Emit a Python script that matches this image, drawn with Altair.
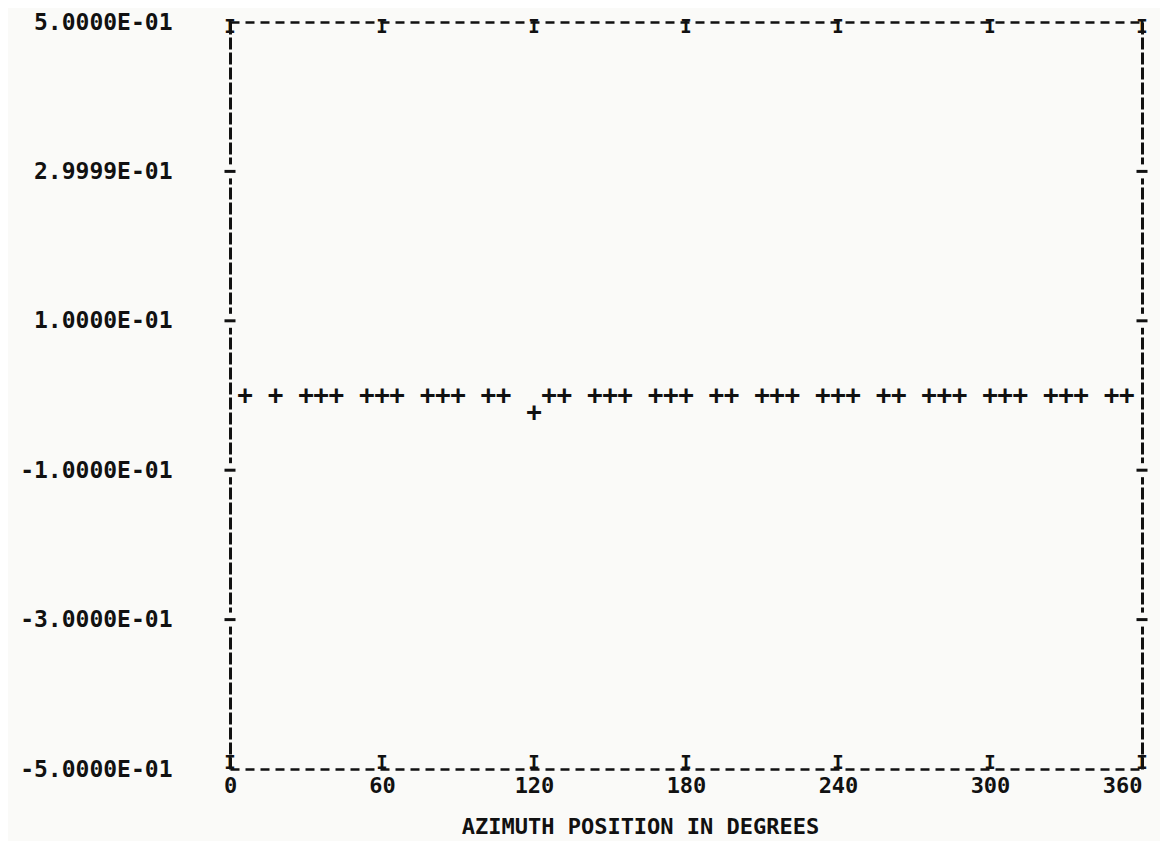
import altair as alt
import pandas as pd

# ---- data ----
azimuth_deg = [6, 18, 30, 36, 42, 54, 60, 66, 78, 84, 90, 102, 108, 120, 126, 132,
               144, 150, 156, 168, 174, 180, 192, 198, 210, 216, 222, 234, 240, 246,
               258, 264, 276, 282, 288, 300, 306, 312, 324, 330, 336, 348, 354]
response = [0.0, 0.0, 0.0, 0.0, 0.0, 0.0, 0.0, 0.0, 0.0, 0.0, 0.0, 0.0, 0.0, -0.024, 0.0, 0.0,
            0.0, 0.0, 0.0, 0.0, 0.0, 0.0, 0.0, 0.0, 0.0, 0.0, 0.0, 0.0, 0.0, 0.0,
            0.0, 0.0, 0.0, 0.0, 0.0, 0.0, 0.0, 0.0, 0.0, 0.0, 0.0, 0.0, 0.0]

x_tick_values = [0, 60, 120, 180, 240, 300, 360]
y_tick_values = [0.5, 0.3, 0.1, -0.1, -0.3, -0.5]
y_tick_labels = ["5.0000E-01", "2.9999E-01", "1.0000E-01", "-1.0000E-01", "-3.0000E-01", "-5.0000E-01"]
x_title = "AZIMUTH POSITION IN DEGREES"

# ---- tables ----
pts = pd.DataFrame({"az": azimuth_deg, "val": response})
y_lo, y_hi = min(y_tick_values), max(y_tick_values)
x_lo, x_hi = min(x_tick_values), max(x_tick_values)
top_df = pd.DataFrame({"az": x_tick_values, "val": [y_hi] * len(x_tick_values)})
bot_df = pd.DataFrame({"az": x_tick_values, "val": [y_lo] * len(x_tick_values)})
yticks_df = pd.DataFrame([{"az": x, "val": y} for y in y_tick_values if y_lo < y < y_hi
                          for x in (x_lo, x_hi)])

label_expr = " : ".join(
    f"abs(datum.value - ({v})) < 1e-9 ? '{l}'" for v, l in zip(y_tick_values, y_tick_labels)
) + " : ''"

FONT = "DejaVu Sans Mono"
INK = "#111111"
BG = "#fafaf8"

xs = alt.Scale(domain=[x_lo, x_hi], nice=False, zero=False)
ys = alt.Scale(domain=[y_lo, y_hi], nice=False, zero=False)

points = alt.Chart(pts).mark_text(
    text="+", font=FONT, fontWeight="bold", fontSize=26, color=INK, baseline="middle", align="center"
).encode(
    x=alt.X("az:Q", scale=xs, axis=alt.Axis(
        values=x_tick_values, format="d", orient="bottom", tickSize=0, grid=False,
        labelFont=FONT, labelFontWeight="bold", labelFontSize=22, labelColor=INK,
        labelBaseline="middle", labelPadding=16, labelFlush=False, labelOverlap=False,
        labelAlign=alt.expr(f"datum.value >= {x_hi} ? 'right' : 'center'"),
        domainColor=INK, domainWidth=2.5, domainDash=[9, 6],
        title=x_title, titleFont=FONT, titleFontWeight="bold", titleFontSize=22,
        titleColor=INK, titleX=410, titleY=57, titleBaseline="middle", titleAlign="center",
    )),
    y=alt.Y("val:Q", scale=ys, axis=alt.Axis(
        values=y_tick_values, labelExpr=label_expr, orient="left", tickSize=0, grid=False,
        labelFont=FONT, labelFontWeight="bold", labelFontSize=23, labelColor=INK,
        labelBaseline="middle", labelAlign="right", labelPadding=58, labelOverlap=False,
        labelFlush=False, domainColor=INK, domainWidth=3, domainDash=[12, 3], title=None,
    )),
)

top_marks = alt.Chart(top_df).mark_text(
    text="I", font=FONT, fontWeight="bold", fontSize=19, color=INK, baseline="middle",
    align="center", dy=5
).encode(
    x=alt.X("az:Q", scale=xs, axis=alt.Axis(
        orient="top", labels=False, ticks=False, grid=False, title=None,
        domainColor=INK, domainWidth=2.5, domainDash=[9, 6])),
    y=alt.Y("val:Q", scale=ys, axis=alt.Axis(
        orient="right", labels=False, ticks=False, grid=False, title=None,
        domainColor=INK, domainWidth=3, domainDash=[12, 3])),
)

bot_marks = alt.Chart(bot_df).mark_text(
    text="I", font=FONT, fontWeight="bold", fontSize=19, color=INK, baseline="middle",
    align="center", dy=-6
).encode(
    x=alt.X("az:Q", scale=xs, axis=None),
    y=alt.Y("val:Q", scale=ys, axis=None),
)

erase = alt.Chart(yticks_df).mark_tick(
    orient="vertical", color=BG, thickness=8, size=14, opacity=1
).encode(
    x=alt.X("az:Q", scale=xs, axis=None),
    y=alt.Y("val:Q", scale=ys, axis=None),
)

ytick_marks = alt.Chart(yticks_df).mark_tick(
    orient="horizontal", color=INK, thickness=3, size=11, opacity=1
).encode(
    x=alt.X("az:Q", scale=xs, axis=None),
    y=alt.Y("val:Q", scale=ys, axis=None),
)

chart = alt.layer(points, top_marks, bot_marks, erase, ytick_marks).resolve_axis(
    x="independent", y="independent"
).properties(
    width=912, height=747,
    autosize=alt.AutoSizeParams(type="none"),
    padding={"left": 222, "top": 14, "right": 18, "bottom": 72},
    background=BG,
).configure_view(stroke=None)

chart.save("out.html", embed_options={"renderer": "svg", "actions": False})
